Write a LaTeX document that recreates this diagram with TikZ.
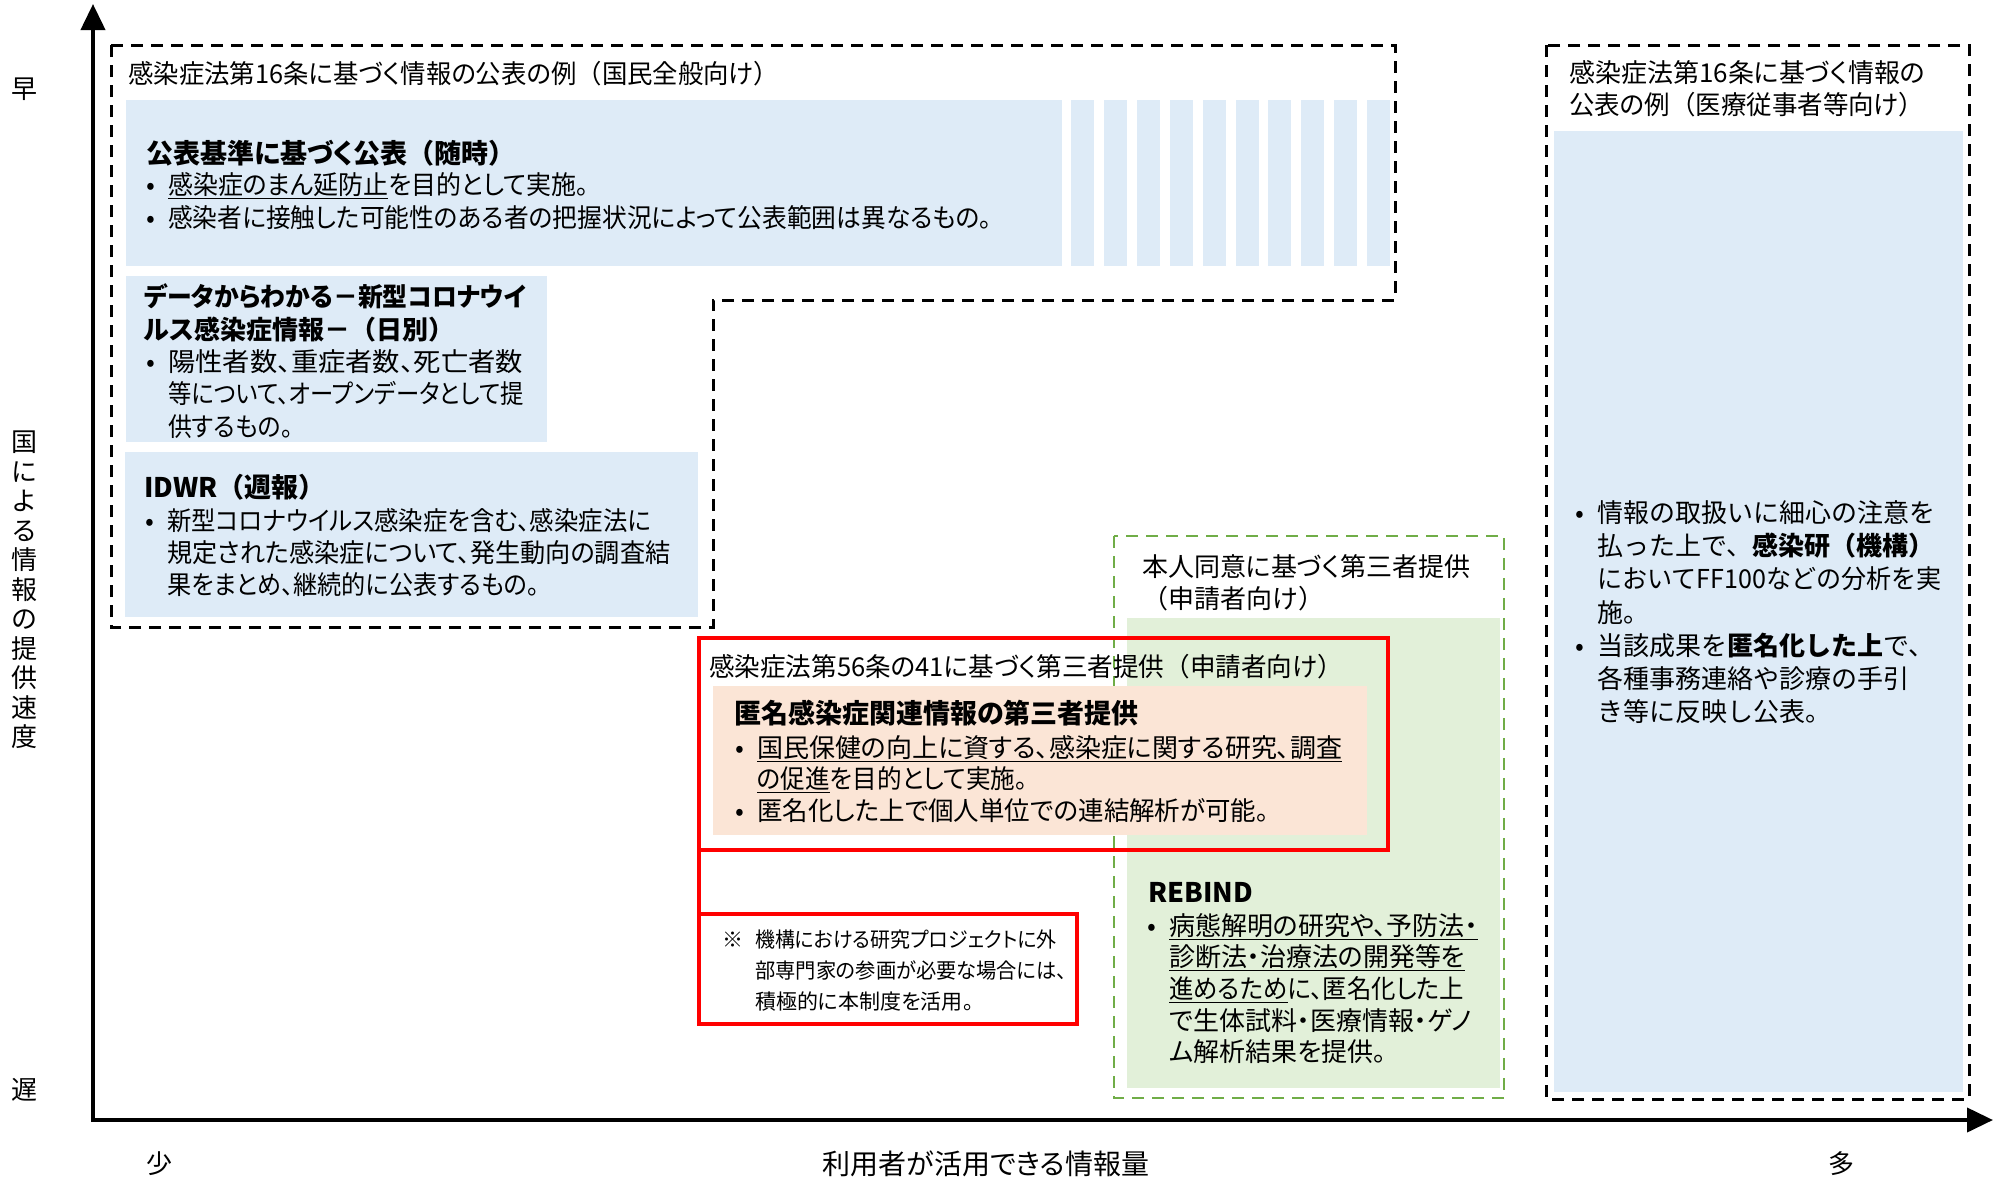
\documentclass[tikz,border=0pt]{standalone}
\usepackage{fontspec}
\usepackage{graphicx}
\setmainfont{Noto Sans CJK JP}
\newfontfamily\jp[RawFeature=+palt]{Noto Sans CJK JP}
\newfontfamily\jpw{Noto Sans CJK JP}
\usetikzlibrary{arrows.meta}
\definecolor{blueF}{HTML}{DEEBF7}
\definecolor{greenF}{HTML}{E2F0D9}
\definecolor{peachF}{HTML}{FBE5D6}
\definecolor{greenD}{HTML}{70AD47}
\definecolor{redL}{HTML}{FF0000}
\newcommand\bul{\makebox[22pt][l]{•}}
\newcommand\ind{\hspace*{22pt}}
\newcommand\sx[2]{\scalebox{#1}[1]{#2}}
\newcommand\lp{{\jpw （}}
\newcommand\rp{{\jpw ）}}
\begin{document}
\begin{tikzpicture}[x=1pt,y=-1pt,
  dashA/.style={draw=black, line width=3pt, dash pattern=on 12pt off 8pt},
  dashG/.style={draw=greenD, line width=2.5pt, dash pattern=on 12pt off 8pt},
  redbox/.style={draw=redL, line width=4.5pt, inner sep=0, outer sep=0, anchor=north west},
  tx/.style={inner sep=0, anchor=west, font=\jp\fontsize{26}{33}\selectfont},
  ttl/.style={inner sep=0, anchor=west, font=\jp\bfseries\fontsize{27}{33}\selectfont},
  blk/.style={inner sep=0, anchor=north west, align=left, font=\jp\fontsize{26}{#1}\selectfont},
  bblk/.style={inner sep=0, anchor=north west, align=left, font=\jp\bfseries\fontsize{26}{#1}\selectfont},
  wblk/.style={inner sep=0, anchor=north west, align=left, font=\jpw\fontsize{26}{#1}\selectfont},
  axl/.style={inner sep=0, font=\jpw\fontsize{26}{30}\selectfont}]
\useasboundingbox (0,0) rectangle (1995,1179);

% fills
\fill[blueF] (126,100) rectangle (1062,266);
\foreach \i in {0,...,9} \fill[blueF] ({1071+32.9*\i},100) rectangle ++(23,166);
\fill[blueF] (126,276) rectangle (547,442);
\fill[blueF] (125,452) rectangle (698,617);
\fill[blueF] (1554,131) rectangle (1963,1092);
\fill[greenF] (1127,618) rectangle (1500,1088);
\draw[dashG] (1114,536) rectangle (1504,1098);
\draw[dashA] (111,45) -- (1395,45) -- (1395,300) -- (713,300) -- (713,627) -- (111,627) -- cycle;
\draw[dashA] (1546,45) rectangle (1969,1099);
\fill[peachF] (713,686) rectangle (1367,835);
\node[redbox, minimum width=689pt, minimum height=212pt] (rb) at (699,638) {};
\node[redbox, minimum width=378pt, minimum height=110pt] (nb) at (699,914) {};
\draw[redL, line width=4.5pt] (rb.south west) -- (nb.north west);

% axes
\coordinate (yt) at (93,4);
\coordinate (org) at (93,1120);
\coordinate (xt) at (1993,1120);
\draw[line width=4pt, {Triangle[length=26pt,width=24pt]}-{Triangle[length=26pt,width=24pt]}] (yt) -- (org) -- (xt);

% texts: public (general)
\node[tx] (tA) at (128,74) {\sx{0.977}{感染症法第16条に基づく情報の公表の例\lp 国民全般向け\rp}};
\node[ttl] (tA1) at (146,153) {公表基準に基づく公表\lp 随時\rp};
\node[blk=33] (bA1) at (146,172) {\bul\sx{0.96}{\underline{感染症のまん延防止}を目的として実施。}\\\bul\sx{0.951}{感染者に接触した可能性のある者の把握状況によって公表範囲は異なるもの。}};

\node[bblk=33] (tD) at (144,283) {\sx{0.955}{データからわかる－新型コロナウイ}\\ルス感染症情報－\lp 日別\rp};
\node[blk=32.5] (bD) at (146,349) {\bul\sx{1.05}{陽性者数、重症者数、死亡者数}\\\ind\sx{0.897}{等について、オープンデータとして提}\\\ind\sx{0.92}{供するもの。}};

\node[ttl] (tI) at (144,487) {IDWR\lp 週報\rp};
\node[blk=32] (bI) at (145,508) {\bul\sx{0.938}{新型コロナウイルス感染症を含む、感染症法に}\\\ind\sx{0.968}{規定された感染症について、発生動向の調査結}\\\ind\sx{0.93}{果をまとめ、継続的に公表するもの。}};

% right box
\node[blk=32.5] (tB) at (1569,60) {感染症法第16条に基づく情報の\\\sx{0.98}{公表の例\lp 医療従事者等向け\rp}};
\node[wblk=33.3] (bB) at (1575,500) {\bul 情報の取扱いに細心の注意を\\\ind 払った上で、\textbf{感染研（機構）}\\\ind\sx{0.965}{においてFF100などの分析を実}\\\ind 施。\\\bul 当該成果を\textbf{匿名化した上}で、\\\ind 各種事務連絡や診療の手引\\\ind き等に反映し公表。};

% consent box
\node[blk=32] (tC) at (1142,554) {本人同意に基づく第三者提供\\{\jpw （申請者向け）}};
\node[ttl] (tRB) at (1148,892) {REBIND};
\node[blk=31.7] (bRB) at (1147,913) {\bul\underline{病態解明の研究や、予防法・}\\\ind\underline{診断法・治療法の開発等を}\\\ind\sx{0.94}{\underline{進めるため}に、匿名化した上}\\\ind で生体試料・医療情報・ゲノ\\\ind ム解析結果を提供。};

% red box
\node[tx] (tR) at (709,667) {\sx{0.984}{感染症法第56条の41に基づく第三者提供\lp 申請者向け\rp}};
\node[ttl] (tP) at (734,713) {匿名感染症関連情報の第三者提供};
\node[blk=31.5] (bP) at (735,735) {\bul\underline{国民保健の向上に資する、感染症に関する研究、調査}\\\ind\sx{0.946}{\underline{の促進}を目的として実施。}\\\bul\sx{0.98}{匿名化した上で個人単位での連結解析が可能。}};

\node[inner sep=0, anchor=north west, align=left, font=\jp\fontsize{21}{31}\selectfont] (nt) at (722,930) {\makebox[33pt][l]{※}\sx{0.95}{機構における研究プロジェクトに外}\\\hspace*{33pt}\sx{0.965}{部専門家の参画が必要な場合には、}\\\hspace*{33pt}積極的に本制度を活用。};

% axis labels
\node[axl] (fast) at (25,89) {早};
\node[axl] (slow) at (25,1090) {遅};
\node[axl, align=center, font=\jpw\fontsize{26}{29.5}\selectfont] (ylab) at (25,590) {国\\に\\よ\\る\\情\\報\\の\\提\\供\\速\\度};
\node[axl] (few) at (159,1164) {少};
\node[axl] (many) at (1841,1164) {多};
\node[inner sep=0, font=\jp\fontsize{28}{33}\selectfont] (xlab) at (986,1164) {利用者が活用できる情報量};
\end{tikzpicture}
\end{document}
